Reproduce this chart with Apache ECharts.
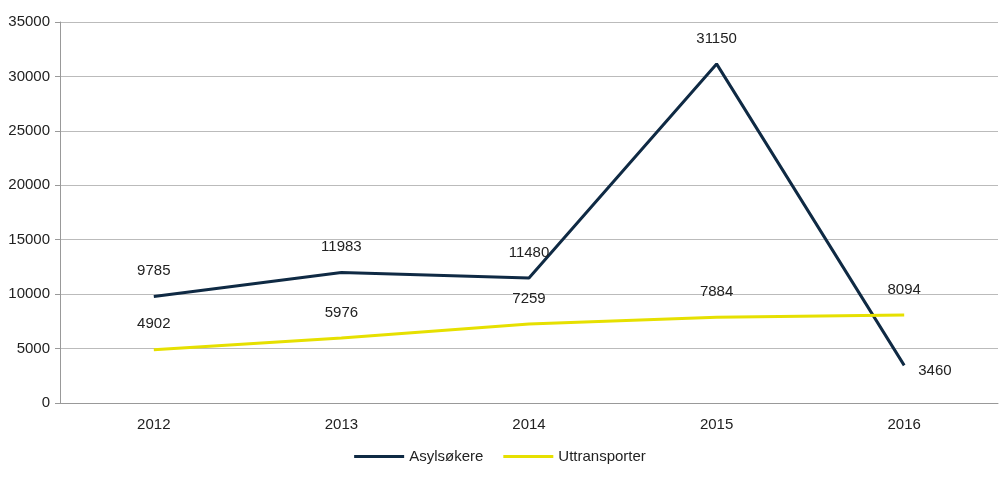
<!DOCTYPE html>
<html>
<head>
<meta charset="UTF-8" />
<script src="https://cdn.jsdelivr.net/npm/echarts@6/dist/echarts.min.js"></script>
<style>html,body{margin:0;background:#fff}#c{width:1000px;height:481px}</style>
</head>
<body>
<div id="c"></div>
<script>
const years = ["2012", "2013", "2014", "2015", "2016"];
const asylsokere = [9785, 11983, 11480, 31150, 3460];
const uttransporter = [4902, 5976, 7259, 7884, 8094];

const chart = echarts.init(document.getElementById("c"));
const font = {fontFamily: "Liberation Sans", fontSize: 15, color: "#222"};
chart.setOption({
	animation: false,
	grid: {left: 60, right: 2, top: 22, bottom: 78},
	legend: {
		bottom: 12, itemWidth: 50, itemHeight: 3, itemGap: 20, icon: "rect",
		textStyle: font,
		data: ["Asylsøkere", "Uttransporter"]
	},
	xAxis: {
		type: "category", data: years, boundaryGap: true,
		axisLine: {lineStyle: {color: "#999"}},
		axisTick: {length: 6, lineStyle: {color: "#999"}},
		axisLabel: Object.assign({margin: 14}, font)
	},
	yAxis: {
		type: "value", min: 0, max: 35000, interval: 5000,
		axisLine: {show: true, lineStyle: {color: "#999"}},
		axisTick: {show: true, length: 5, lineStyle: {color: "#999"}},
		splitLine: {lineStyle: {color: "#bbb"}},
		axisLabel: Object.assign({margin: 10, formatter: v => String(v)}, font)
	},
	series: [{
		name: "Asylsøkere", type: "line", data: asylsokere.map((v, i) => i === 4 ? {value: v, label: {position: "right", distance: 14, offset: [0, 6]}} : v),
		symbol: "circle", symbolSize: 0, showSymbol: true,
		lineStyle: {width: 3, color: "#0f2a44"}, itemStyle: {color: "#0f2a44"},
		label: Object.assign({show: true, position: "top", distance: 18}, font)
	}, {
		name: "Uttransporter", type: "line", data: uttransporter,
		symbol: "circle", symbolSize: 0, showSymbol: true,
		lineStyle: {width: 3, color: "#e6e000"}, itemStyle: {color: "#e6e000"},
		label: Object.assign({show: true, position: "top", distance: 18}, font)
	}]
});
</script>
</body>
</html>
